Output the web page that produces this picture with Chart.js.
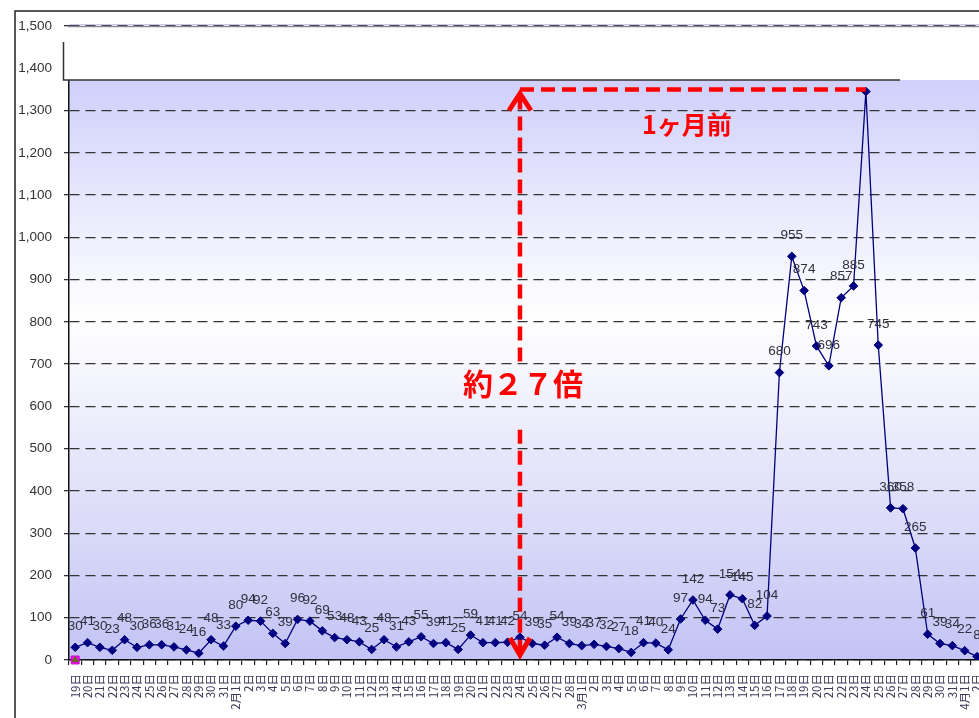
<!DOCTYPE html>
<html>
<head>
<meta charset="utf-8">
<script src="https://cdn.jsdelivr.net/npm/chart.js@4.4.1/dist/chart.umd.min.js"></script>
<style>
  html, body { margin: 0; padding: 0; background: #fff; overflow: hidden; }
  #wrap { position: relative; width: 979px; height: 718px; overflow: hidden; background: #fff; }
  #chart { position: absolute; left: 0; top: 0; }
</style>
</head>
<body>
<div id="wrap"><canvas id="chart" width="1000" height="740"></canvas></div>
<script>
// Daily counts, 19 Jan – 2 Apr
const categories = [
  "19日","20日","21日","22日","23日","24日","25日","26日","27日","28日","29日","30日","31日",
  "2月1日","2日","3日","4日","5日","6日","7日","8日","9日","10日","11日","12日","13日","14日",
  "15日","16日","17日","18日","19日","20日","21日","22日","23日","24日","25日","26日","27日","28日",
  "3月1日","2日","3日","4日","5日","6日","7日","8日","9日","10日","11日","12日","13日","14日",
  "15日","16日","17日","18日","19日","20日","21日","22日","23日","24日","25日","26日","27日","28日",
  "29日","30日","31日",
  "4月1日","2日"
];

const dailyCounts = [
  30, 41, 30, 23, 48, 30, 36, 36, 31, 24, 16, 48, 33,
  80, 94, 92, 63, 39, 96, 92, 69, 53, 48, 43, 25, 48, 31,
  43, 55, 39, 41, 25, 59, 41, 41, 42, 54, 39, 35, 54, 39,
  34, 37, 32, 27, 18, 41, 40, 24, 97, 142, 94, 73, 154, 145,
  82, 104, 680, 955, 874, 743, 696, 857, 885, 1345, 745, 360, 358, 265,
  61, 39, 34,
  22, 8
];

// secondary series that only start at the first day
const seriesSquare = [0];
const seriesTriangle = [0];

const yMin = 0;
const yMax = 1500;
const yStep = 100;

// comparison: peak day vs. the same day one month earlier
const refIndex = 36;   // 2月24日
const peakIndex = 64;  // 3月24日
const noteMonth = '1ヶ月前';
const noteRatio = '約２７倍';
const ratioTextValue = 655;
const ratioGapTop = 705;
const ratioGapBottom = 545;

const NUM_FONT = '"Liberation Sans", Arial, sans-serif';
const CJK_FONT = '"Noto Sans CJK JP", "Noto Sans", sans-serif';

const plotBackground = {
  id: 'plotBackground',
  beforeDraw(chart) {
    const { ctx, chartArea: a } = chart;
    const g = ctx.createLinearGradient(0, a.top, 0, a.bottom);
    g.addColorStop(0, '#cbcbfa');
    g.addColorStop(0.09, '#d0d0fb');
    g.addColorStop(0.46, '#ffffff');
    g.addColorStop(1, '#c3c3f5');
    ctx.save();
    ctx.fillStyle = g;
    ctx.fillRect(a.left, a.top, a.right - a.left, a.bottom - a.top);
    ctx.restore();
  }
};

const valueLabels = {
  id: 'valueLabels',
  afterDatasetsDraw(chart) {
    const meta = chart.getDatasetMeta(0);
    const ctx = chart.ctx;
    ctx.save();
    ctx.font = '13.5px ' + NUM_FONT;
    ctx.fillStyle = '#30303f';
    ctx.textAlign = 'center';
    ctx.textBaseline = 'middle';
    meta.data.forEach((pt, i) => {
      ctx.fillText(String(dailyCounts[i]), pt.x, pt.y - 21);
    });
    ctx.restore();
  }
};

const overlays = {
  id: 'overlays',
  afterDraw(chart) {
    const { ctx, chartArea: a, scales } = chart;
    const xs = scales.x, ys = scales.y;
    ctx.save();

    // title box covering the top band of the plot
    ctx.fillStyle = '#ffffff';
    ctx.fillRect(a.left - 6, a.top + 1, 1000, 53);
    ctx.strokeStyle = '#333';
    ctx.lineWidth = 1.5;
    ctx.beginPath();
    ctx.moveTo(a.left - 5.5, a.top + 16);
    ctx.lineTo(a.left - 5.5, a.top + 54);
    ctx.lineTo(900, a.top + 54);
    ctx.stroke();

    // plot top edge
    ctx.strokeStyle = '#c8c8f0';
    ctx.lineWidth = 1;
    ctx.beginPath();
    ctx.moveTo(a.left, a.top - 1.5);
    ctx.lineTo(1000, a.top - 1.5);
    ctx.stroke();
    ctx.strokeStyle = '#8a8a98';
    ctx.lineWidth = 1.5;
    ctx.beginPath();
    ctx.moveTo(a.left - 1, a.top + 0.5);
    ctx.lineTo(1000, a.top + 0.5);
    ctx.stroke();

    // outer frame
    ctx.strokeStyle = '#222';
    ctx.lineWidth = 1.5;
    ctx.beginPath();
    ctx.moveTo(15, 760);
    ctx.lineTo(15, 11);
    ctx.lineTo(1000, 11);
    ctx.stroke();

    // red comparison markers
    const xr = xs.getPixelForValue(refIndex);
    const xp = xs.getPixelForValue(peakIndex);
    const yp = ys.getPixelForValue(dailyCounts[peakIndex]) - 2;
    const y0 = ys.getPixelForValue(0);
    const yText = ys.getPixelForValue(ratioTextValue);
    const yGapTop = ys.getPixelForValue(ratioGapTop);
    const yGapBottom = ys.getPixelForValue(ratioGapBottom);

    ctx.strokeStyle = '#ff0000';
    ctx.lineWidth = 4.5;
    ctx.lineCap = 'butt';
    ctx.setLineDash([14, 7]);
    ctx.beginPath();
    ctx.moveTo(xr, yp);
    ctx.lineTo(xp, yp);
    ctx.stroke();
    ctx.beginPath();
    ctx.moveTo(xr, yp + 6);
    ctx.lineTo(xr, yGapTop);
    ctx.stroke();
    ctx.beginPath();
    ctx.moveTo(xr, yGapBottom);
    ctx.lineTo(xr, y0 - 8);
    ctx.stroke();
    ctx.setLineDash([]);

    ctx.lineWidth = 5;
    ctx.lineJoin = 'miter';
    ctx.beginPath();
    ctx.moveTo(xr - 11, yp + 21);
    ctx.lineTo(xr, yp + 4);
    ctx.lineTo(xr + 11, yp + 21);
    ctx.stroke();
    ctx.beginPath();
    ctx.moveTo(xr - 10, y0 - 22);
    ctx.lineTo(xr, y0 - 5);
    ctx.lineTo(xr + 10, y0 - 22);
    ctx.stroke();

    ctx.fillStyle = '#ff0000';
    ctx.textAlign = 'center';
    ctx.textBaseline = 'middle';
    ctx.font = 'bold 25px ' + CJK_FONT;
    ctx.fillText(noteMonth, (xr + xp) / 2 - 6, yp + 35);
    ctx.font = 'bold 30px ' + CJK_FONT;
    ctx.fillText(noteRatio, xr + 3, yText);

    ctx.restore();
  }
};

new Chart(document.getElementById('chart'), {
  type: 'line',
  data: {
    labels: categories,
    datasets: [
      {
        data: dailyCounts,
        borderColor: '#00007a',
        borderWidth: 1.3,
        pointStyle: 'rectRot',
        pointRadius: 4.3,
        pointBackgroundColor: '#000080',
        pointBorderColor: '#000080',
        pointBorderWidth: 1,
        tension: 0
      },
      {
        data: seriesTriangle,
        showLine: false,
        pointStyle: 'triangle',
        pointRadius: 3.5,
        pointBackgroundColor: '#6b6b10',
        pointBorderColor: '#5a6a10',
        pointBorderWidth: 1,
        clip: false
      },
      {
        data: seriesSquare,
        showLine: false,
        pointStyle: 'rect',
        pointRadius: 5.6,
        pointBackgroundColor: '#ff00ff',
        pointBorderColor: '#d000d0',
        pointBorderWidth: 1,
        clip: false
      }
    ]
  },
  options: {
    responsive: false,
    animation: false,
    devicePixelRatio: 1,
    layout: { padding: { top: 26, left: 0, right: 16, bottom: 0 } },
    plugins: { legend: { display: false }, tooltip: { enabled: false } },
    scales: {
      x: {
        type: 'category',
        offset: true,
        grid: {
          display: true,
          offset: true,
          drawOnChartArea: false,
          drawTicks: true,
          tickLength: 5,
          color: '#222',
          lineWidth: 1.2
        },
        border: { display: true, color: '#111', width: 1.5 },
        ticks: {
          autoSkip: false,
          minRotation: 90,
          maxRotation: 90,
          padding: 9,
          color: '#3a3a58',
          font: { family: CJK_FONT, size: 11.5 }
        },
        afterFit(s) { s.height = 80; }
      },
      y: {
        min: yMin,
        max: yMax,
        ticks: {
          stepSize: yStep,
          padding: 12,
          color: '#333',
          font: { family: NUM_FONT, size: 13.5 },
          callback: v => v.toLocaleString('en-US')
        },
        grid: {
          color: '#333',
          lineWidth: 1.3,
          drawTicks: true,
          tickLength: 5,
          tickColor: '#222',
          tickWidth: 1.2
        },
        border: { display: true, color: '#111', width: 1.5, dash: [10, 6] },
        afterFit(s) { s.width = 69; }
      }
    }
  },
  plugins: [plotBackground, valueLabels, overlays]
});
</script>
</body>
</html>
